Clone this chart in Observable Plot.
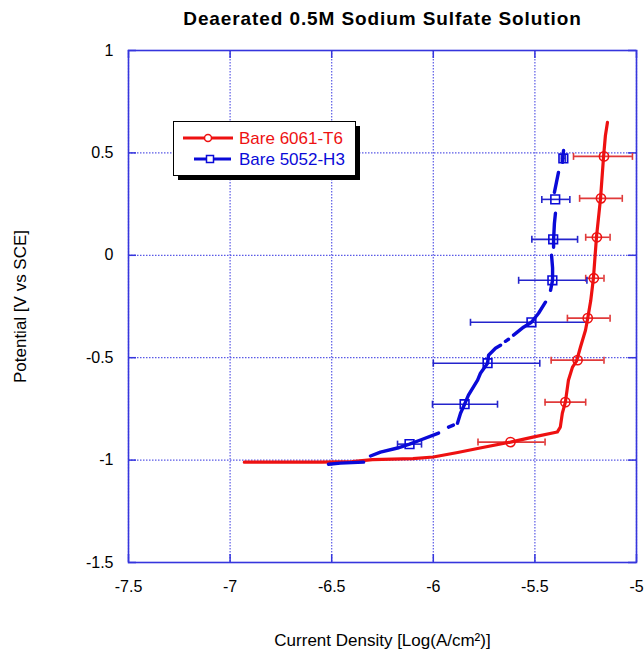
<!DOCTYPE html>
<html>
<head>
<meta charset="utf-8">
<script src="https://cdn.jsdelivr.net/npm/d3@7"></script>
<script src="https://cdn.jsdelivr.net/npm/@observablehq/plot@0.6"></script>
<style>
  html, body { margin: 0; padding: 0; background: #fff; }
  #chart { position: relative; width: 644px; height: 651px; }
  #chart svg { display: block; }
</style>
</head>
<body>
<div id="chart"></div>
<script>
// ---------- data ----------
const title = "Deaerated 0.5M Sodium Sulfate Solution";
const xLabel = "Current Density [Log(A/cm²)]";
const yLabel = "Potential [V vs SCE]";
const seriesNames = ["Bare 6061-T6", "Bare 5052-H3"];
const xTicks = [-7.5, -7, -6.5, -6, -5.5, -5];
const yTicks = [1, 0.5, 0, -0.5, -1, -1.5];

// Bare 6061-T6 polarization curve
const redX = [-6.93, -6.55, -6.40, -6.30, -6.10, -6.00, -5.88, -5.77, -5.62, -5.51, -5.39, -5.375, -5.365, -5.35, -5.335, -5.315, -5.295, -5.276, -5.251, -5.24, -5.225, -5.212, -5.197, -5.177, -5.167, -5.162, -5.153, -5.143];
const redY = [-1.010, -1.010, -1.007, -0.998, -0.993, -0.985, -0.963, -0.941, -0.912, -0.888, -0.863, -0.839, -0.771, -0.717, -0.610, -0.546, -0.517, -0.449, -0.366, -0.307, -0.220, -0.112, 0.088, 0.278, 0.415, 0.483, 0.585, 0.649];
// Bare 6061-T6 markers with error bars
const redMX = [-5.62, -5.35, -5.29, -5.24, -5.21, -5.195, -5.175, -5.16];
const redMY = [-0.912, -0.717, -0.512, -0.307, -0.112, 0.088, 0.278, 0.483];
const redLo = [-5.78, -5.45, -5.42, -5.34, -5.25, -5.25, -5.28, -5.31];
const redHi = [-5.45, -5.25, -5.16, -5.13, -5.16, -5.13, -5.07, -5.02];

// Bare 5052-H3 polarization curve (null = gap in the trace)
const blueX = [-6.516, -6.457, -6.343, null, -6.309, -6.260, -6.176, -6.117, -6.063, -5.974, null, -5.925, -5.901, null, -5.881, -5.866, -5.846, -5.827, -5.782, -5.768, -5.733, -5.728, -5.694, -5.669, null, -5.645, -5.630, null, -5.605, -5.556, -5.517, -5.482, -5.448, null, -5.423, -5.413, -5.413, -5.418, null, -5.408, -5.408, -5.404, -5.399, null, -5.404, -5.394, -5.384, null, -5.364, -5.359];
const blueY = [-1.020, -1.015, -1.010, null, -0.980, -0.961, -0.941, -0.922, -0.902, -0.868, null, -0.839, -0.829, null, -0.820, -0.771, -0.727, -0.683, -0.610, -0.576, -0.527, -0.488, -0.454, -0.439, null, -0.420, -0.410, null, -0.390, -0.351, -0.327, -0.283, -0.229, null, -0.171, -0.122, -0.063, 0.000, null, 0.039, 0.078, 0.156, 0.205, null, 0.307, 0.356, 0.405, null, 0.454, 0.512];
// Bare 5052-H3 markers with error bars
const blueMX = [-6.117, -5.846, -5.733, -5.517, -5.414, -5.41, -5.40, -5.36];
const blueMY = [-0.922, -0.727, -0.527, -0.327, -0.122, 0.078, 0.273, 0.473];
const blueLo = [-6.176, -6.004, -6.000, -5.817, -5.580, -5.515, -5.466, -5.370];
const blueHi = [-6.058, -5.684, -5.476, -5.245, -5.244, -5.290, -5.328, -5.350];

// ---------- build tables ----------
const redLine = redX.map((x, i) => ({x, y: redY[i]}));
const blueLine = blueX.map((x, i) => ({x, y: blueY[i]}));
const redPts = redMX.map((x, i) => ({x, y: redMY[i], lo: redLo[i], hi: redHi[i]}));
const bluePts = blueMX.map((x, i) => ({x, y: blueMY[i], lo: blueLo[i], hi: blueHi[i]}));

// ---------- styles ----------
const RED = "#ee1111", RED_ERR = "#e03a3a";
const BLUE = "#0a0ad8", BLUE_ERR = "#2424cc";
const FRAME = "#3535dd", GRID = "#5a5ae6";
const FONT = "'Liberation Sans', Arial, sans-serif";

const W = 644, H = 651;
const mL = 128, mR = 8, mT = 50, mB = 89;
const plotW = W - mL - mR, plotH = H - mT - mB;
const tickLen = 8;

// vertical cap symbol for error bars
const capSymbol = {
  draw(context, size) {
    const h = Math.sqrt(size / Math.PI);
    context.moveTo(0, -h);
    context.lineTo(0, h);
  }
};

const fmt = d => String(d);

const chart = Plot.plot({
  width: W,
  height: H,
  marginLeft: mL,
  marginRight: mR,
  marginTop: mT,
  marginBottom: mB,
  style: {fontFamily: FONT, background: "#fff", color: "#000", overflow: "visible"},
  x: {domain: [-7.5, -5]},
  y: {domain: [-1.5, 1]},
  marks: [
    Plot.gridX(xTicks, {stroke: GRID, strokeOpacity: 1, strokeWidth: 1.2, strokeDasharray: "1.5,1.5"}),
    Plot.gridY(yTicks, {stroke: GRID, strokeOpacity: 1, strokeWidth: 1.2, strokeDasharray: "1.5,1.5"}),
    // inward ticks on all four sides
    Plot.tickX(xTicks, {x: d => d, stroke: FRAME, strokeWidth: 1.5, insetTop: plotH - tickLen}),
    Plot.tickX(xTicks, {x: d => d, stroke: FRAME, strokeWidth: 1.5, insetBottom: plotH - tickLen}),
    Plot.tickY(yTicks, {y: d => d, stroke: FRAME, strokeWidth: 1.5, insetRight: plotW - tickLen}),
    Plot.tickY(yTicks, {y: d => d, stroke: FRAME, strokeWidth: 1.5, insetLeft: plotW - tickLen}),
    Plot.frame({stroke: FRAME, strokeWidth: 1.6}),
    Plot.axisX(xTicks, {tickSize: 0, tickPadding: 18, tickFormat: fmt, fontSize: 16, label: null}),
    Plot.axisY(yTicks, {tickSize: 0, tickPadding: 15, tickFormat: fmt, fontSize: 16, label: null}),
    // error bars
    Plot.ruleY(redPts, {y: "y", x1: "lo", x2: "hi", stroke: RED_ERR, strokeWidth: 1.6}),
    Plot.dot(redPts, {x: "lo", y: "y", symbol: capSymbol, r: 3.5, stroke: RED_ERR, strokeWidth: 1.6}),
    Plot.dot(redPts, {x: "hi", y: "y", symbol: capSymbol, r: 3.5, stroke: RED_ERR, strokeWidth: 1.6}),
    Plot.ruleY(bluePts, {y: "y", x1: "lo", x2: "hi", stroke: BLUE_ERR, strokeWidth: 1.6}),
    Plot.dot(bluePts, {x: "lo", y: "y", symbol: capSymbol, r: 3.5, stroke: BLUE_ERR, strokeWidth: 1.6}),
    Plot.dot(bluePts, {x: "hi", y: "y", symbol: capSymbol, r: 3.5, stroke: BLUE_ERR, strokeWidth: 1.6}),
    // curves
    Plot.line(redLine, {x: "x", y: "y", stroke: RED, strokeWidth: 3.2, curve: "linear"}),
    Plot.line(blueLine, {x: "x", y: "y", stroke: BLUE, strokeWidth: 3.4, curve: "linear"}),
    // markers
    Plot.dot(redPts, {x: "x", y: "y", r: 4.6, stroke: RED, strokeWidth: 1.6, fill: "none"}),
    Plot.dot(bluePts, {x: "x", y: "y", symbol: "square", r: 4.9, stroke: BLUE, strokeWidth: 1.6, fill: "none"}),
    // title and axis labels
    Plot.text([title], {frameAnchor: "top", dy: -32, fontSize: 19, fontWeight: "bold", fill: "#000", lineAnchor: "middle", textAnchor: "middle"}),
    Plot.text([xLabel], {frameAnchor: "bottom", dy: 78, fontSize: 17, fill: "#000", lineAnchor: "middle", textAnchor: "middle"}),
    Plot.text([yLabel], {frameAnchor: "left", dx: -108, rotate: -90, fontSize: 17, fill: "#000", lineAnchor: "middle", textAnchor: "middle"})
  ]
});

const host = document.getElementById("chart");
host.appendChild(chart);

// widen the title's letter spacing to match the reference typeface
d3.select(chart).selectAll("text").filter(function () { return this.textContent === title; })
  .attr("letter-spacing", "0.9px");

// ---------- legend (overlay box with drop shadow) ----------
const legend = d3.select(host).append("svg")
  .attr("width", 195).attr("height", 64)
  .style("position", "absolute").style("left", "172px").style("top", "120px")
  .style("font-family", FONT);
legend.append("rect").attr("x", 6).attr("y", 6).attr("width", 182).attr("height", 54).attr("fill", "#000");
legend.append("rect").attr("x", 1.5).attr("y", 1.5).attr("width", 182).attr("height", 54).attr("fill", "#fff").attr("stroke", "#000").attr("stroke-width", 1);
const items = [
  {name: seriesNames[0], color: RED, x1: 11, x2: 61, y: 18, mx: 36, sym: "circle"},
  {name: seriesNames[1], color: BLUE, x1: 22, x2: 59, y: 39, mx: 38, sym: "square"}
];
items.forEach(it => {
  legend.append("line").attr("x1", it.x1).attr("x2", it.x2).attr("y1", it.y).attr("y2", it.y)
    .attr("stroke", it.color).attr("stroke-width", 3);
  if (it.sym === "circle") {
    legend.append("circle").attr("cx", it.mx).attr("cy", it.y).attr("r", 3.5)
      .attr("fill", "#fff").attr("stroke", it.color).attr("stroke-width", 1.5);
  } else {
    legend.append("rect").attr("x", it.mx - 3.5).attr("y", it.y - 3.5).attr("width", 7).attr("height", 7)
      .attr("fill", "#fff").attr("stroke", it.color).attr("stroke-width", 1.5);
  }
  legend.append("text").attr("x", 67).attr("y", it.y).attr("dy", "0.35em")
    .attr("fill", it.color).attr("font-size", 17).text(it.name);
});
</script>
</body>
</html>
